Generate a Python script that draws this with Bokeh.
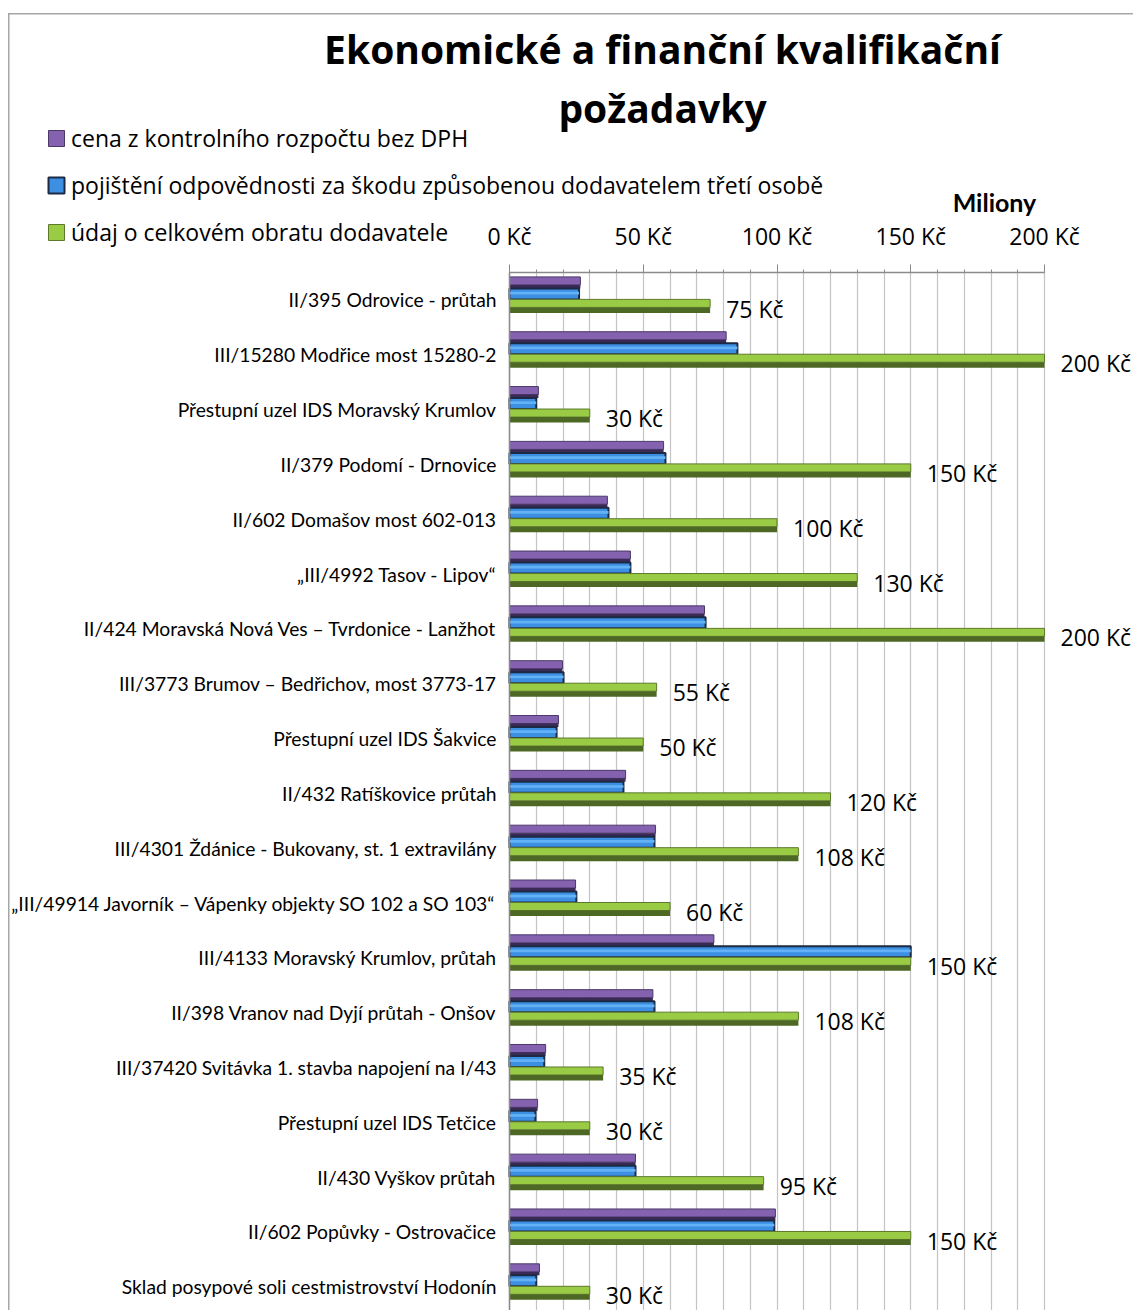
from bokeh.plotting import figure
from bokeh.models import (Range1d, FixedTicker, SingleIntervalTicker, Legend, LegendItem,
                          Label, ColumnDataSource)
from bokeh.core.properties import value
from bokeh.embed import file_html
from bokeh.resources import INLINE

categories = [
    "II/395 Odrovice - průtah",
    "III/15280 Modřice most 15280-2",
    "Přestupní uzel IDS Moravský Krumlov",
    "II/379 Podomí - Drnovice",
    "II/602 Domašov most 602-013",
    "„III/4992 Tasov - Lipov“",
    "II/424 Moravská Nová Ves – Tvrdonice - Lanžhot",
    "III/3773 Brumov – Bedřichov, most 3773-17",
    "Přestupní uzel IDS Šakvice",
    "II/432 Ratíškovice průtah",
    "III/4301 Ždánice - Bukovany, st. 1 extravilány",
    "„III/49914 Javorník – Vápenky objekty SO 102 a SO 103“",
    "III/4133 Moravský Krumlov, průtah",
    "II/398 Vranov nad Dyjí průtah - Onšov",
    "III/37420 Svitávka 1. stavba napojení na I/43",
    "Přestupní uzel IDS Tetčice",
    "II/430 Vyškov průtah",
    "II/602 Popůvky - Ostrovačice",
    "Sklad posypové soli cestmistrovství Hodonín",
]
cena = [26.5, 81, 10.8, 57.6, 36.6, 45.2, 72.9, 19.8, 18.3, 43.4, 54.6, 24.7, 76.4, 53.6, 13.5, 10.5, 47.1, 99.4, 11.2]
pojisteni = [26, 85.2, 10, 58.3, 37, 45.2, 73.3, 20.2, 17.6, 42.6, 54.2, 25, 150, 54.2, 13, 9.7, 47.1, 99, 10]
obrat = [75, 200, 30, 150, 100, 130, 200, 55, 50, 120, 108, 60, 150, 108, 35, 30, 95, 150, 30]
series_names = [
    "cena z kontrolního rozpočtu bez DPH",
    "pojištění odpovědnosti za škodu způsobenou dodavatelem třetí osobě",
    "údaj o celkovém obratu dodavatele",
]
x_ticks = [0, 50, 100, 150, 200]
x_tick_labels = ["0 Kč", "50 Kč", "100 Kč", "150 Kč", "200 Kč"]
x_max = 200
title_lines = ["Ekonomické a finanční kvalifikační", "požadavky"]
unit_label = "Miliony"

n = len(categories)
ys = list(range(n))
src = ColumnDataSource(dict(
    y=ys,
    cena=cena, pojisteni=pojisteni, obrat=obrat,
    y_p1=[y - 0.3465 for y in ys], y_p2=[y - 0.2417 for y in ys],
    y_b=[y - 0.1094 for y in ys], y_b2=[y - 0.125 for y in ys],
    y_g1=[y + 0.0638 for y in ys], y_g2=[y + 0.187 for y in ys],
    y_lbl=[y + 0.157 for y in ys],
    lbl=[f"{v:g} Kč" for v in obrat],
))

W, H = 1133, 1310
Y_TOP, Y_BOTTOM = -5.4605, 18.432     # whole canvas is the frame
X_LEFT, X_RIGHT = -190.28, 233.27

border_css = {
    "background-color": "white",
    "background-image": "linear-gradient(#a6a6a6, #a6a6a6), linear-gradient(#a6a6a6, #a6a6a6)",
    "background-size": "1.5px 1300px, 1125px 1.5px",
    "background-position": "8px 13px, 8px 13px",
    "background-repeat": "no-repeat",
}

p = figure(width=W, height=H,
           x_range=Range1d(X_LEFT, X_RIGHT), y_range=Range1d(Y_BOTTOM, Y_TOP),
           x_axis_location="above", output_backend="svg", toolbar_location=None,
           min_border_left=0, min_border_top=0, min_border_right=0, min_border_bottom=0,
           styles=border_css)
p.outline_line_color = None
p.background_fill_color = None
p.border_fill_color = None

# grid (vertical lines every 10 between 0 and 200)
p.ygrid.grid_line_color = None
p.xgrid.ticker = SingleIntervalTicker(interval=10)
p.xgrid.bounds = (0, x_max)
p.xgrid.grid_line_color = "#c4c4c4"
p.xgrid.grid_line_width = 1.2
try:
    p.xgrid.cross_bounds = (-0.5, Y_BOTTOM)
except AttributeError:
    p.xgrid.visible = False
    gx = list(range(0, x_max + 1, 10))
    p.segment(x0=gx, x1=gx, y0=[-0.5] * len(gx), y1=[Y_BOTTOM] * len(gx),
              line_color="#c4c4c4", line_width=1.2)

# top axis, pinned at the top of the plot area
xa = p.xaxis[0]
xa.fixed_location = -0.5
xa.ticker = SingleIntervalTicker(interval=50, num_minor_ticks=5)
xa.bounds = (0, x_max)
xa.major_label_overrides = {t: l for t, l in zip(x_ticks, x_tick_labels)}
xa.axis_line_color = "#8a8a8a"
xa.axis_line_width = 1.5
xa.major_tick_line_color = "#8a8a8a"
xa.minor_tick_line_color = "#8a8a8a"
xa.major_tick_out = 8
xa.major_tick_in = 0
xa.minor_tick_out = 3
xa.minor_tick_in = 0
xa.major_label_standoff = 12
xa.major_label_text_font = "Open Sans"
xa.major_label_text_font_size = "23px"
xa.major_label_text_color = "black"

# left axis, pinned at x = 0
ya = p.yaxis[0]
ya.fixed_location = 0
ya.bounds = (-0.5, Y_BOTTOM)
ya.ticker = FixedTicker(ticks=ys)
ya.major_label_overrides = {i: c for i, c in enumerate(categories)}
ya.major_tick_line_color = None
ya.minor_tick_line_color = None
ya.axis_line_color = "#8a8a8a"
ya.axis_line_width = 1.5
ya.major_label_standoff = 7
ya.major_label_text_font = "Lato"
ya.major_label_text_font_size = "19.3px"
ya.major_label_text_color = "black"

# bars: purple
r_p = p.hbar(y="y_p1", right="cena", left=0, height=0.146, source=src,
             fill_color="#8462b0", line_color="#4a3868", line_width=1)
p.hbar(y="y_p2", right="cena", left=0, height=0.0638, source=src,
       fill_color="#3a2a55", line_color=None)
# blue
r_b = p.hbar(y="y_b", right="pojisteni", left=0, height=0.2006, source=src,
             fill_color="#3d8fe2", line_color="#1c2a44", line_width=2)
p.hbar(y="y_b2", right="pojisteni", left=0, height=0.05, source=src,
       fill_color="#62b2f5", line_color=None)
# green
r_g = p.hbar(y="y_g1", right="obrat", left=0, height=0.146, source=src,
             fill_color="#9acb45", line_color="#5d7a2c", line_width=1)
p.hbar(y="y_g2", right="obrat", left=0, height=0.1003, source=src,
       fill_color="#4c6824", line_color=None)

# value labels
p.text(x="obrat", y="y_lbl", text="lbl", source=src, x_offset=16,
       text_font=value("Open Sans"), text_font_size="23px", text_color="black",
       text_baseline="middle", text_align="left")

legend = Legend(items=[LegendItem(label=series_names[0], renderers=[r_p]),
                       LegendItem(label=series_names[1], renderers=[r_b]),
                       LegendItem(label=series_names[2], renderers=[r_g])],
                location=(46, 1062), orientation="vertical",
                border_line_color=None, background_fill_alpha=0,
                padding=0, margin=0, glyph_width=20, glyph_height=20,
                label_standoff=5, spacing=15, label_height=31,
                label_text_font="Open Sans", label_text_font_size="23px",
                label_text_color="black")
p.add_layout(legend)

p.add_layout(Label(x=57.2, y=-4.5868, text=title_lines[0], text_align="center",
                   text_baseline="middle", text_font="Open Sans", text_font_style="bold",
                   text_font_size="39px", text_color="black"))
p.add_layout(Label(x=57.2, y=-3.5108, text=title_lines[1], text_align="center",
                   text_baseline="middle", text_font="Open Sans", text_font_style="bold",
                   text_font_size="39px", text_color="black"))
p.add_layout(Label(x=181.3, y=-1.7944, text=unit_label, text_align="center",
                   text_baseline="middle", text_font="Lato", text_font_style="bold",
                   text_font_size="25px", text_color="black"))

open("out.html", "w").write(file_html(p, INLINE))
